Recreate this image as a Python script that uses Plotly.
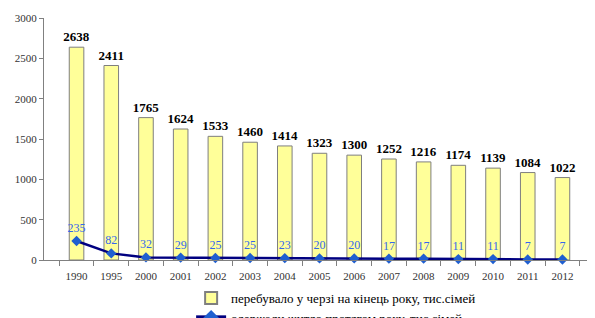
import plotly.graph_objects as go

years = ["1990", "1995", "2000", "2001", "2002", "2003", "2004", "2005",
         "2006", "2007", "2008", "2009", "2010", "2011", "2012"]
queue = [2638, 2411, 1765, 1624, 1533, 1460, 1414, 1323, 1300, 1252, 1216, 1174, 1139, 1084, 1022]
received = [235, 82, 32, 29, 25, 25, 23, 20, 20, 17, 17, 11, 11, 7, 7]
y_ticks = [0, 500, 1000, 1500, 2000, 2500, 3000]

serif = "Liberation Serif, Times New Roman, serif"

fig = go.Figure()
fig.add_trace(go.Bar(
    x=years, y=queue,
    name="перебувало у черзі на кінець року, тис.сімей",
    marker=dict(color="#FFFF99", line=dict(color="#7F7F7F", width=1)),
    width=0.42,
    text=[str(v) for v in queue],
    textposition="outside",
    constraintext="none",
    textfont=dict(family=serif, size=13, color="black", weight="bold"),
    cliponaxis=False,
))
fig.add_trace(go.Scatter(
    x=years, y=received,
    name="одержали житло протягом року, тис.сімей",
    mode="lines+markers+text",
    line=dict(color="#000080", width=2.5),
    marker=dict(symbol="diamond", size=8, color="#1F5FD0"),
    text=[str(v) for v in received],
    textposition="top center",
    textfont=dict(family=serif, size=12, color="#3366EE"),
    cliponaxis=False,
))

fig.update_layout(
    width=587, height=310,
    margin=dict(l=36, r=0, t=10, b=58, autoexpand=False),
    plot_bgcolor="white", paper_bgcolor="white",
    showlegend=True,
    legend=dict(
        x=0.267, y=-0.095, xanchor="left", yanchor="top",
        font=dict(family=serif, size=13, color="black"),
        tracegroupgap=0, itemsizing="constant",
        bgcolor="rgba(0,0,0,0)",
    ),
    font=dict(family=serif, size=11, color="#333333"),
)
fig.update_xaxes(
    type="category", showline=True, linecolor="#808080", linewidth=1,
    ticks="outside", tickson="boundaries", ticklen=5, tickcolor="#808080",
    ticklabelstandoff=6,
    tickfont=dict(family=serif, size=11, color="#333333"),
    showgrid=False, automargin=False,
)
fig.update_yaxes(
    range=[0, 3000], tickvals=y_ticks,
    showline=True, linecolor="#808080", linewidth=1,
    ticks="outside", ticklen=4, tickcolor="#808080",
    tickfont=dict(family=serif, size=11, color="#333333"),
    showgrid=False, zeroline=False, automargin=False,
)

fig.write_html("out.html")
